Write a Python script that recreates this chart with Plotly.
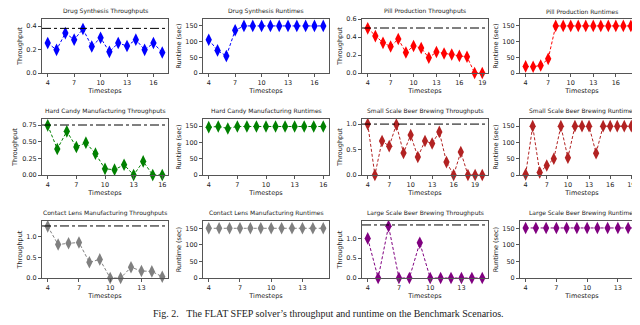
import plotly.graph_objects as go

# timesteps per scenario
steps_drug = list(range(4, 18))
steps_pill = list(range(4, 20))
steps_candy = list(range(4, 17))
steps_small = list(range(4, 21))
steps_lens = list(range(4, 16))
steps_large = list(range(4, 16))

# throughputs
drug_tp = [0.255, 0.197, 0.34, 0.284, 0.375, 0.226, 0.30, 0.18, 0.255, 0.23, 0.284, 0.197, 0.255, 0.174]
pill_tp = [0.496, 0.41, 0.335, 0.295, 0.378, 0.228, 0.30, 0.277, 0.169, 0.234, 0.216, 0.205, 0.19, 0.18, 0.0, 0.0]
candy_tp = [0.745, 0.39, 0.655, 0.42, 0.485, 0.32, 0.092, 0.08, 0.153, 0.0, 0.204, 0.0, 0.0]
small_tp = [1.0, 0.0, 0.667, 0.567, 0.99, 0.433, 0.787, 0.353, 0.667, 0.62, 0.847, 0.253, 0.0, 0.453, 0.0, 0.0, 0.0]
lens_tp = [1.25, 0.81, 0.84, 0.86, 0.38, 0.45, 0.0, 0.0, 0.26, 0.17, 0.16, 0.03]
large_tp = [1.0, 0.0, 1.31, 0.0, 0.0, 0.89, 0.0, 0.0, 0.0, 0.0, 0.0, 0.0]

# upper-bound reference lines
drug_ref = 0.38
pill_ref = 0.5
candy_ref = 0.75
small_ref = 1.0
lens_ref = 1.26
large_ref = 1.34

# runtimes in seconds
drug_rt = [106, 72, 54, 136, 150, 150, 150, 150, 150, 150, 150, 150, 150, 150]
pill_rt = [21, 20, 24, 45, 150, 150, 150, 150, 150, 150, 150, 150, 150, 150, 150, 150]
candy_rt = [147, 149, 143, 149, 149, 149, 149, 149, 149, 149, 149, 149, 149]
small_rt = [2, 150, 8, 29, 50, 150, 53, 150, 150, 150, 67, 150, 150, 150, 150, 150, 150]
lens_rt = [150, 150, 150, 150, 150, 150, 150, 150, 150, 150, 150, 150]
large_rt = [151, 151, 151, 151, 151, 151, 151, 151, 151, 151, 151, 151]

panels = [
    # title, x, y, color, ref, ymax, dtick, fmt, ylabel
    ("Drug Synthesis Throughputs", steps_drug, drug_tp, "#0000ff", drug_ref, 0.46, 0.2, ".1f", "Throughput"),
    ("Drug Synthesis Runtimes", steps_drug, drug_rt, "#0000ff", None, 172, 50, "d", "Runtime (sec)"),
    ("Pill Production Throughputs", steps_pill, pill_tp, "#ff0000", pill_ref, 0.6, 0.2, ".1f", "Throughput"),
    ("Pill Production Runtimes", steps_pill, pill_rt, "#ff0000", None, 172, 50, "d", "Runtime (sec)"),
    ("Hard Candy Manufacturing Throughputs", steps_candy, candy_tp, "#008000", candy_ref, 0.84, 0.25, ".2f", "Throughput"),
    ("Hard Candy Manufacturing Runtimes", steps_candy, candy_rt, "#008000", None, 172, 50, "d", "Runtime (sec)"),
    ("Small Scale Beer Brewing Throughputs", steps_small, small_tp, "#b22222", small_ref, 1.1, 0.5, ".1f", "Throughput"),
    ("Small Scale Beer Brewing Runtimes", steps_small, small_rt, "#b22222", None, 172, 50, "d", "Runtime (sec)"),
    ("Contact Lens Manufacturing Throughputs", steps_lens, lens_tp, "#808080", lens_ref, 1.38, 0.5, ".1f", "Throughput"),
    ("Contact Lens Manufacturing Runtimes", steps_lens, lens_rt, "#808080", None, 172, 50, "d", "Runtime (sec)"),
    ("Large Scale Beer Brewing Throughputs", steps_large, large_tp, "#800080", large_ref, 1.44, 0.5, ".1f", "Throughput"),
    ("Large Scale Beer Brewing Runtimes", steps_large, large_rt, "#800080", None, 172, 50, "d", "Runtime (sec)"),
]

W, H = 640, 325
col_px = [(34, 160), (195, 321), (354, 480), (512, 636)]
row_px = [(11, 65), (111, 167), (213, 270)]

FONT = "DejaVu Sans"
TXT = "#222"
fig = go.Figure()
layout = {}
shapes = []
annotations = []

for i, (title, xs, ys, color, ref, ymax, dtick, fmt, ylabel) in enumerate(panels):
    r, c = divmod(i, 4)
    n = i + 1
    xa = "x" if n == 1 else "x%d" % n
    ya = "y" if n == 1 else "y%d" % n
    x0, x1 = col_px[c]
    y0, y1 = row_px[r]
    pad = (xs[-1] - xs[0]) * 0.05

    fig.add_trace(go.Scatter(
        x=xs, y=ys, xaxis=xa, yaxis=ya, mode="lines+markers",
        line=dict(color=color, width=1, dash="3px,2px"),
        marker=dict(symbol="diamond-tall", size=9, color=color),
        cliponaxis=False, showlegend=False,
    ))

    axis_common = dict(
        showline=True, mirror=True, linecolor="#555", linewidth=1,
        ticks="outside", ticklen=3, tickcolor="#555", showgrid=False,
        zeroline=False, automargin=False,
        tickfont=dict(family=FONT, size=6.5, color=TXT),
    )
    layout["xaxis" if n == 1 else "xaxis%d" % n] = dict(
        domain=[x0 / W, x1 / W], anchor=ya,
        range=[xs[0] - pad, xs[-1] + pad], tick0=4, dtick=3,
        title=dict(text="Timesteps", font=dict(family=FONT, size=6.5, color=TXT), standoff=2),
        **axis_common,
    )
    layout["yaxis" if n == 1 else "yaxis%d" % n] = dict(
        domain=[1 - y1 / H, 1 - y0 / H], anchor=xa,
        range=[0, ymax], tick0=0, dtick=dtick, tickformat=fmt,
        title=dict(text=ylabel, font=dict(family=FONT, size=6.5, color=TXT), standoff=3),
        **axis_common,
    )
    if ref is not None:
        shapes.append(dict(
            type="line", xref=xa + " domain", yref=ya, x0=0, x1=1, y0=ref, y1=ref,
            line=dict(color="black", width=1, dash="dashdot"),
        ))
    annotations.append(dict(
        text=title, xref="paper", yref="paper", x=(x0 + x1) / 2 / W, y=1 - (y0 - 2) / H,
        xanchor="center", yanchor="bottom", showarrow=False,
        font=dict(family=FONT, size=6, color=TXT),
    ))

annotations.append(dict(
    text="Fig. 2.&nbsp;&nbsp;&nbsp;The FLAT SFEP solver\u2019s throughput and runtime on the Benchmark Scenarios.",
    xref="paper", yref="paper", x=0.5, y=1 - 305 / H, xanchor="center", yanchor="middle",
    showarrow=False, font=dict(family="Liberation Serif", size=10, color=TXT),
))
shapes.append(dict(
    type="line", xref="paper", yref="paper", x0=0, x1=270 / W, y0=1 - 322 / H, y1=1 - 322 / H,
    line=dict(color=TXT, width=1),
))

fig.update_layout(
    width=W, height=H, margin=dict(l=0, r=0, t=0, b=0),
    paper_bgcolor="white", plot_bgcolor="white",
    shapes=shapes, annotations=annotations, **layout,
)
fig.write_html("out.html")
